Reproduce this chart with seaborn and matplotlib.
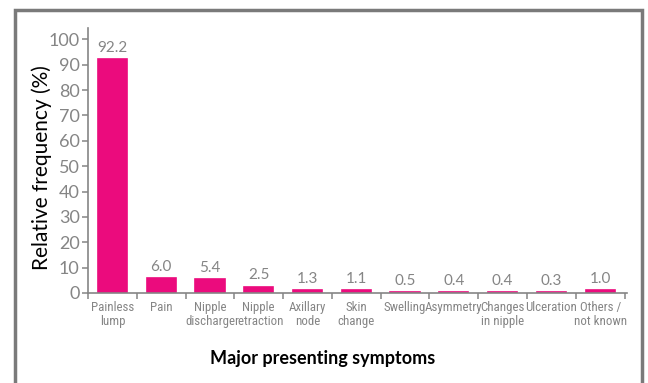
import matplotlib
matplotlib.use("Agg")
import matplotlib.pyplot as plt
from matplotlib.patches import Rectangle
from matplotlib.ticker import FixedLocator
import seaborn as sns
import pandas as pd

symptoms = ["Painless\nlump", "Pain", "Nipple\ndischarge", "Nipple\nretraction",
            "Axillary\nnode", "Skin\nchange", "Swelling", "Asymmetry",
            "Changes\nin nipple", "Ulceration", "Others /\nnot known"]
frequency = [92.2, 6.0, 5.4, 2.5, 1.3, 1.1, 0.5, 0.4, 0.4, 0.3, 1.0]
y_ticks = [0, 10, 20, 30, 40, 50, 60, 70, 80, 90, 100]

BAR = "#EB0B7D"
GREY = "#858585"
FRAME = "#7a7a7a"

df = pd.DataFrame({"symptom": symptoms, "freq": frequency})

sns.set_theme(style="ticks")
plt.rcParams["font.family"] = ["Lato", "DejaVu Sans"]

fig = plt.figure(figsize=(6.48, 3.83), dpi=100)
ax = fig.add_axes([0.1358, 0.235, 0.8318, 0.692])

sns.barplot(data=df, x="symptom", y="freq", color=BAR, saturation=1,
            width=0.6, edgecolor=BAR, linewidth=1.2, ax=ax)

ax.set_ylim(0, 104.5)
ax.set_xlim(-0.5, len(symptoms) - 0.45)
ax.yaxis.set_major_locator(FixedLocator(y_ticks))

# value labels above each bar
ax.bar_label(ax.containers[0], labels=[f"{v:.1f}" for v in frequency],
             padding=3, color=GREY, fontsize=11)

# axes styling
for side in ("top", "right"):
    ax.spines[side].set_visible(False)
for side in ("left", "bottom"):
    ax.spines[side].set_color(GREY)
    ax.spines[side].set_linewidth(1.2)

ax.tick_params(axis="y", colors=GREY, length=4, width=1.1, labelsize=13, pad=2)
ax.tick_params(axis="x", which="major", length=0, labelsize=9.3,
               labelcolor=GREY, pad=6)
ax.xaxis.set_minor_locator(FixedLocator([i - 0.5 for i in range(len(symptoms) + 1)]))
ax.tick_params(axis="x", which="minor", length=4, width=1.1, color=GREY)
for lbl in ax.get_xticklabels():
    lbl.set_family(["Roboto Condensed", "Open Sans Condensed", "DejaVu Sans"])
    lbl.set_fontstretch("condensed")
    lbl.set_linespacing(1.05)

ax.set_ylabel("Relative frequency (%)", fontsize=15, color="black")
ax.yaxis.set_label_coords(-0.067, 0.475)
ax.set_xlabel("Major presenting symptoms", fontsize=13, fontweight="bold",
              color="black")
ax.xaxis.set_label_coords(0.436, -0.215)

# grey frame around the panel, open at the bottom edge
fig.patches.append(Rectangle((15 / 648, -0.1), 627 / 648, 1.0 - 10 / 383 + 0.1,
                             transform=fig.transFigure, fill=False,
                             edgecolor=FRAME, linewidth=2.5, zorder=0))

fig.savefig("out.png", dpi=100)
